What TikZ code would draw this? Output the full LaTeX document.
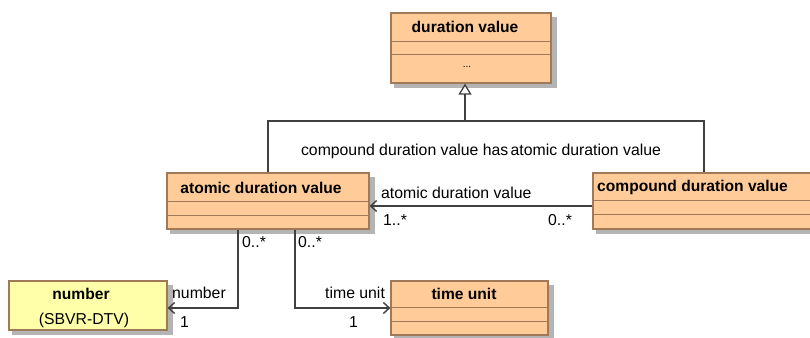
\documentclass[tikz,border=0pt]{standalone}
\usepackage{fontspec}
\setmainfont{Liberation Sans}
\usetikzlibrary{arrows.meta,backgrounds}
\definecolor{peach}{RGB}{255,204,153}
\definecolor{lyellow}{RGB}{255,255,170}
\definecolor{brd}{RGB}{160,122,86}
\definecolor{conn}{RGB}{64,64,64}
\definecolor{shd}{RGB}{180,180,180}
\tikzset{
  classbox/.style={draw=brd, line width=1.2pt, fill=peach, rectangle, inner sep=0pt},
  ybox/.style={classbox, fill=lyellow},
  divider/.style={draw=brd, line width=1.2pt},
  shadowfill/.style={fill=shd},
  ttl/.style={font=\fontsize{15.6}{18}\selectfont\bfseries, inner sep=0pt},
  lbl/.style={font=\fontsize{15.8}{18}\selectfont, inner sep=0pt, text=black},
  conline/.style={draw=conn, line width=1.4pt},
  assoc/.style={conline, -{Straight Barb[length=6pt,width=11pt,line width=1.4pt]}},
  gen/.style={conline, -{Triangle[open,length=11pt,width=13pt,fill=white,line width=1.3pt]}},
}
\begin{document}
\begin{tikzpicture}[x=1pt,y=-1pt]
\useasboundingbox (0,0) rectangle (810,337);
% class boxes
\node[classbox, minimum width=160pt, minimum height=70pt] (dv) at (471,48) {};
\node[classbox, minimum width=202pt, minimum height=56pt] (adv) at (268,201) {};
\node[classbox, minimum width=222pt, minimum height=56pt] (cdv) at (704,201) {};
\node[ybox, minimum width=158pt, minimum height=49pt] (num) at (88,305.5) {};
\node[classbox, minimum width=157pt, minimum height=54pt] (tu) at (469.5,308) {};
% shadows
\begin{scope}[on background layer]
\foreach \b in {dv,adv,cdv,num,tu}{
  \fill[shadowfill] ([xshift=4pt,yshift=-4pt]\b.south west) rectangle ([xshift=5pt,yshift=-5pt]\b.north east);
}
\end{scope}
% dividers
\draw[divider] ([yshift=-29pt]dv.north west) -- ([yshift=-29pt]dv.north east);
\draw[divider] ([yshift=-42pt]dv.north west) -- ([yshift=-42pt]dv.north east);
\draw[divider] ([yshift=-29pt]adv.north west) -- ([yshift=-29pt]adv.north east);
\draw[divider] ([yshift=-43pt]adv.north west) -- ([yshift=-43pt]adv.north east);
\draw[divider] ([yshift=-28pt]cdv.north west) -- ([yshift=-28pt]cdv.north east);
\draw[divider] ([yshift=-42pt]cdv.north west) -- ([yshift=-42pt]cdv.north east);
\draw[divider] ([yshift=-27pt]tu.north west) -- ([yshift=-27pt]tu.north east);
\draw[divider] ([yshift=-41pt]tu.north west) -- ([yshift=-41pt]tu.north east);
% titles
\node[ttl] (dvt) at (465,27) {duration value};
\node[lbl, font=\fontsize{10}{12}\selectfont] (dvd) at (467,67) {...};
\node[ttl] (advt) at (261,187.5) {atomic duration value};
\node[ttl, anchor=west] (cdvt) at (597,187.5) {compound duration value};
\node[ttl] (numt) at (81,294) {number};
\node[lbl] (nums) at (84,320) {(SBVR-DTV)};
\node[ttl] (tut) at (464,294) {time unit};
% generalization
\coordinate (gj) at (465,121);
\draw[conline] (adv.north) |- (gj) -| (cdv.north);
\draw[gen] (gj) -- (gj |- dv.south);
\node[lbl] (genl) at (481,151) {compound duration value has\hspace{-2pt} atomic duration value};
% association compound -> atomic
\draw[assoc] ([yshift=-5pt]cdv.west) -- ([yshift=-5pt]adv.east);
\node[lbl, anchor=west] (a1) at (381,193) {atomic duration value};
\node[lbl, anchor=west] (a2) at (383,220) {1..*};
\node[lbl, anchor=west] (a3) at (548,220) {0..*};
% associations to number and time unit
\draw[assoc] ([xshift=-30pt]adv.south) |- ([yshift=-2.5pt]num.east);
\draw[assoc] ([xshift=27pt]adv.south) |- (tu.west);
\node[lbl, anchor=west] (b1) at (242,242) {0..*};
\node[lbl, anchor=west] (b2) at (298,242) {0..*};
\node[lbl, anchor=west] (b3) at (172,293) {number};
\node[lbl, anchor=west] (b4) at (180,322) {1};
\node[lbl, anchor=west] (b5) at (325,293) {time unit};
\node[lbl, anchor=west] (b6) at (349,322) {1};
\end{tikzpicture}
\end{document}
